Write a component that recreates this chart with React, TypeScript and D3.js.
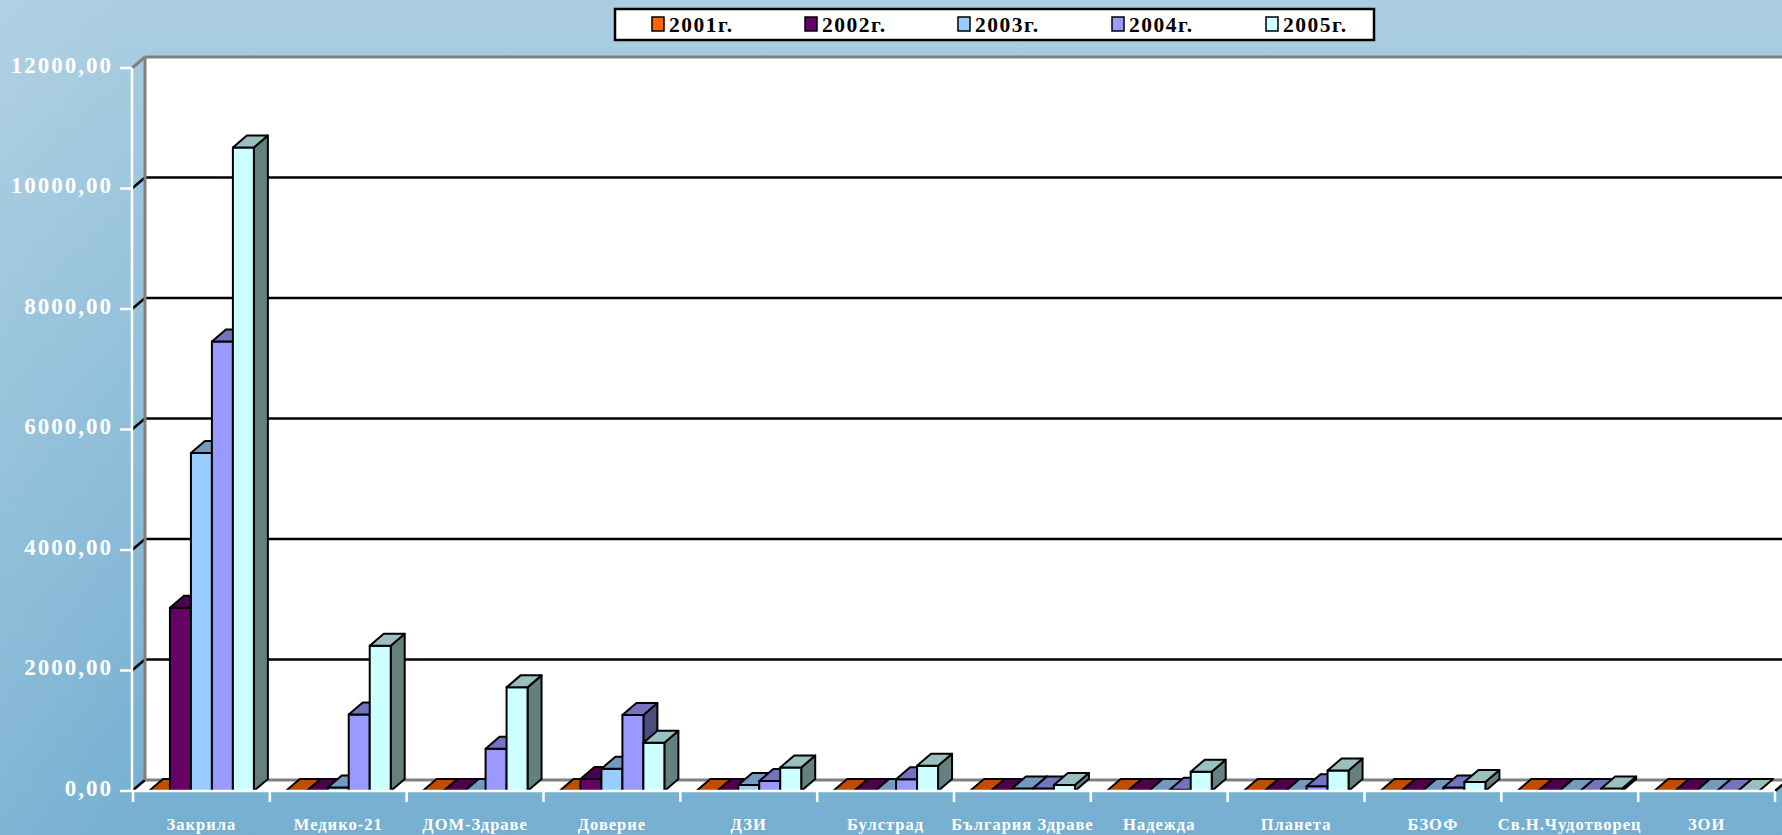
import { useMemo } from 'react'
import * as d3 from 'd3'

// Chart data
const categories = [
  'Закрила', 'Медико-21', 'ДОМ-Здраве', 'Доверие', 'ДЗИ', 'Булстрад',
  'България Здраве', 'Надежда', 'Планета', 'БЗОФ', 'Св.Н.Чудотворец', 'ЗОИ'
]
const years = ['2001г.', '2002г.', '2003г.', '2004г.', '2005г.']

const values2001 = [0, 0, 0, 0, 0, 0, 0, 0, 0, 0, 0, 0]
const values2002 = [3040, 0, 0, 200, 0, 0, 0, 0, 0, 0, 0, 0]
const values2003 = [5610, 60, 0, 370, 100, 0, 40, 0, 0, 0, 0, 0]
const values2004 = [7460, 1270, 700, 1260, 165, 195, 40, 20, 80, 60, 0, 0]
const values2005 = [10680, 2410, 1720, 800, 390, 420, 100, 320, 340, 150, 40, 0]
const seriesValues = [values2001, values2002, values2003, values2004, values2005]

const yTicks = [0, 2000, 4000, 6000, 8000, 10000, 12000]

// front / top / side face colours per series
const frontColors = ['#FF6600', '#660066', '#99CCFF', '#9999FF', '#CCFFFF']
const topColors = ['#BF4D00', '#4D004D', '#7399BF', '#7373BF', '#99BFBF']
const sideColors = ['#803300', '#330033', '#4D6680', '#4D4D80', '#668080']

const W = 1782
const H = 835

export default function App() {
  const x0 = useMemo(
    () => d3.scaleBand<string>().domain(categories).range([133, 1775]).paddingInner(0).paddingOuter(0),
    []
  )
  const x1 = useMemo(
    () => d3.scaleBand<string>().domain(years).range([0, x0.bandwidth()]).paddingInner(0).paddingOuter(0.76),
    [x0]
  )
  const y = useMemo(() => d3.scaleLinear().domain([0, 12000]).range([791, 68]), [])

  // depth offsets
  const wdx = 13
  const wdy = -11
  const bdx = 14
  const bdy = -12

  const axisX = 132
  const wallX = axisX + wdx
  const fmt = (v: number) => d3.format('.2f')(v).replace('.', ',')

  const bars: JSX.Element[] = []
  categories.forEach((cat, ci) => {
    years.forEach((yr, si) => {
      const v = seriesValues[si][ci]
      const x = (x0(cat) || 0) + (x1(yr) || 0)
      const w = x1.bandwidth()
      const yt = y(v)
      const yb = y(0)
      const top = `${x},${yt} ${x + bdx},${yt + bdy} ${x + w + bdx},${yt + bdy} ${x + w},${yt}`
      const side = `${x + w},${yt} ${x + w + bdx},${yt + bdy} ${x + w + bdx},${yb + bdy} ${x + w},${yb}`
      bars.push(
        <g key={`${ci}-${si}`} stroke="#000" strokeWidth={2} strokeLinejoin="round">
          {v > 0 && <polygon points={side} fill={sideColors[si]} />}
          {v > 0 && <rect x={x} y={yt} width={w} height={yb - yt} fill={frontColors[si]} />}
          <polygon points={top} fill={topColors[si]} />
        </g>
      )
    })
  })

  const legendX = [652, 805, 958, 1112, 1266]

  return (
    <svg
      width={W}
      height={H}
      style={{ position: 'absolute', left: 0, top: 0, display: 'block' }}
      fontFamily="'Liberation Serif', 'Times New Roman', serif"
    >
      <defs>
        <linearGradient id="bg" x1="0" y1="0" x2="0" y2="1">
          <stop offset="0%" stopColor="#AACDE1" />
          <stop offset="45%" stopColor="#92C0DA" />
          <stop offset="100%" stopColor="#76AFD0" />
        </linearGradient>
        <linearGradient id="bgLeft" x1="0" y1="0" x2="1" y2="0">
          <stop offset="0%" stopColor="#FFFFFF" stopOpacity={0.08} />
          <stop offset="100%" stopColor="#FFFFFF" stopOpacity={0} />
        </linearGradient>
      </defs>
      <rect width={W} height={H} fill="url(#bg)" />
      <rect width={130} height={H} fill="url(#bgLeft)" />

      {/* back wall */}
      <rect x={wallX} y={y(12000) + wdy} width={W - wallX + 20} height={y(0) - y(12000)} fill="#fff" />
      {/* floor */}
      <polygon
        points={`${axisX},${y(0)} ${wallX},${y(0) + wdy} ${1775 + wdx},${y(0) + wdy} 1775,${y(0)}`}
        fill="#fff"
      />

      {/* gridlines on back wall + stubs across the side wall */}
      {yTicks.filter(t => t > 0 && t < 12000).map(t => (
        <g key={t} stroke="#000" strokeWidth={2.5}>
          <line x1={wallX} x2={W} y1={y(t) + wdy} y2={y(t) + wdy} />
          <line x1={axisX} x2={wallX} y1={y(t)} y2={y(t) + wdy} />
        </g>
      ))}
      <line x1={axisX} x2={wallX} y1={y(0)} y2={y(0) + wdy} stroke="#000" strokeWidth={2.5} />
      <line x1={1775} x2={1775 + wdx} y1={y(0)} y2={y(0) + wdy} stroke="#000" strokeWidth={2.5} />

      {/* wall borders */}
      <g stroke="#808080" strokeWidth={3} fill="none">
        <line x1={wallX} x2={W} y1={y(12000) + wdy} y2={y(12000) + wdy} />
        <line x1={wallX} x2={wallX} y1={y(12000) + wdy} y2={y(0) + wdy} />
        <line x1={axisX} x2={wallX} y1={y(12000)} y2={y(12000) + wdy} />
        <line x1={wallX} x2={W} y1={y(0) + wdy} y2={y(0) + wdy} />
      </g>

      {bars}

      {/* value axis */}
      <g stroke="#fff" strokeWidth={2.5}>
        <line x1={axisX} x2={axisX} y1={y(12000)} y2={y(0)} />
        {yTicks.map(t => (
          <line key={t} x1={axisX - 12} x2={axisX} y1={y(t)} y2={y(t)} />
        ))}
      </g>
      {yTicks.map(t => (
        <text
          key={t}
          x={113}
          y={y(t) - 3}
          textAnchor="end"
          dominantBaseline="central"
          fill="#fff"
          fontWeight="bold"
          fontSize={23}
          letterSpacing={2}
        >
          {fmt(t)}
        </text>
      ))}

      {/* category axis */}
      <g stroke="#fff" strokeWidth={2.5}>
        <line x1={axisX} x2={1775} y1={y(0)} y2={y(0)} />
        {[...categories.map(c => x0(c) || 0), 1775].map((t, i) => (
          <line key={i} x1={t} x2={t} y1={y(0)} y2={y(0) + 11} />
        ))}
      </g>
      {categories.map(c => (
        <text
          key={c}
          x={(x0(c) || 0) + x0.bandwidth() / 2}
          y={830}
          textAnchor="middle"
          fill="#fff"
          fontWeight="bold"
          fontSize={16.5}
          letterSpacing={1}
        >
          {c}
        </text>
      ))}

      {/* legend */}
      <rect x={615} y={9} width={759} height={31} fill="#fff" stroke="#000" strokeWidth={2.5} />
      {years.map((yr, i) => (
        <g key={yr}>
          <rect x={legendX[i]} y={17} width={12} height={14} fill={frontColors[i]} stroke="#000" strokeWidth={1.5} />
          <text x={legendX[i] + 17} y={32} fontWeight="bold" fontSize={21.5} letterSpacing={1.5} fill="#000">
            {yr}
          </text>
        </g>
      ))}
    </svg>
  )
}
